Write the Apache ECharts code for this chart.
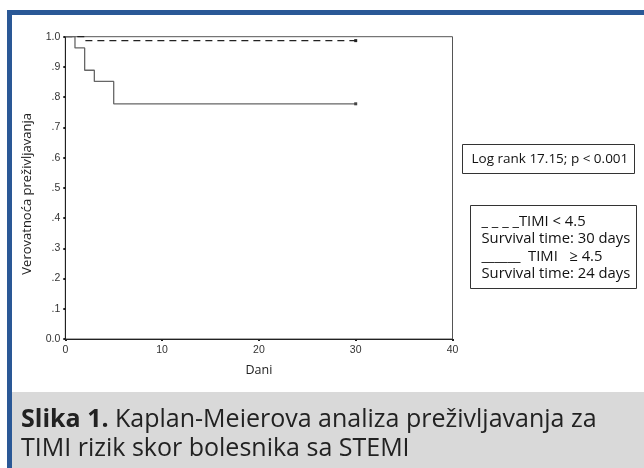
<!DOCTYPE html>
<html>
<head>
<meta charset="utf-8">
<title>Kaplan-Meier TIMI</title>
<script src="https://cdn.jsdelivr.net/npm/echarts@6/dist/echarts.min.js"></script>
<style>
    html, body { margin: 0; padding: 0; background: #fff; }
    #kmChart { width: 644px; height: 468px; }
</style>
</head>
<body>
<div id="kmChart"></div>
<script>
// Kaplan-Meier krive - TIMI rizik skor
var lowDays = [0, 2, 30];                        // TIMI < 4.5 (isprekidana)
var lowSurv = [1.0, 0.987, 0.987];
var highDays = [0, 1, 2, 3, 5, 30];              // TIMI >= 4.5 (puna)
var highSurv = [1.0, 0.963, 0.889, 0.852, 0.778, 0.778];
var yTickLabels = ['0.0', '.1', '.2', '.3', '.4', '.5', '.6', '.7', '.8', '.9', '1.0'];
var logRankText = 'Log rank 17.15; p < 0.001';
var legendLines = ['_ _ _ _TIMI < 4.5', 'Survival time: 30 days', '______  TIMI   \u2265 4.5', 'Survival time: 24 days'];
var captionBold = 'Slika 1.';
var captionRest = ' Kaplan-Meierova analiza preživljavanja za';
var captionLine2 = 'TIMI rizik skor bolesnika sa STEMI';

function toPairs(xs, ys) {
    var out = [];
    for (var i = 0; i < xs.length; i++) {
        out.push([xs[i], ys[i]]);
    }
    return out;
}

// samo poslednja tacka ima mali kvadrat (cenzurisano)
function endMark(value) {
    return value[0] === 30 ? 3 : 0;
}

function showKmChart() {
    var kmChart = echarts.init(document.getElementById('kmChart'));
    var textFont = '"Open Sans", Lato, sans-serif';
    var legendGraphics = [];
    var legendY = [224, 241, 259, 276];
    for (var i = 0; i < legendLines.length; i++) {
        legendGraphics.push({
            type: 'text',
            left: 481.5,
            top: legendY[i] - 10,
            style: {
                text: legendLines[i],
                fill: '#111',
                font: '14.8px ' + textFont
            }
        });
    }
    option = {
        backgroundColor: '#fff',
        animation: false,
        grid: {
            left: 65.3,
            right: 191.5,
            top: 36.7,
            bottom: 129,
            show: true,
            borderColor: '#555',
            borderWidth: 1
        },
        xAxis: {
            type: 'value',
            min: 0,
            max: 40,
            interval: 10,
            name: 'Dani',
            nameLocation: 'middle',
            nameGap: 25,
            nameTextStyle: {
                color: '#222',
                fontFamily: textFont,
                fontSize: 12.5
            },
            splitLine: { show: false },
            axisLine: { lineStyle: { color: '#222', width: 1 } },
            axisTick: { length: 2, lineStyle: { color: '#222', width: 2 } },
            axisLabel: {
                color: '#333',
                fontFamily: 'Liberation Sans, Arial, sans-serif',
                fontSize: 10.5,
                margin: 6
            }
        },
        yAxis: {
            type: 'value',
            min: 0,
            max: 1,
            interval: 0.1,
            name: 'Verovatnoća preživljavanja',
            nameLocation: 'middle',
            nameGap: 32,
            nameRotate: 90,
            nameTextStyle: {
                color: '#222',
                fontFamily: textFont,
                fontSize: 13,
                padding: [0, 12, 0, 0]
            },
            splitLine: { show: false },
            axisLine: { lineStyle: { color: '#222', width: 1 } },
            axisTick: { length: 2, lineStyle: { color: '#222', width: 2 } },
            axisLabel: {
                color: '#333',
                fontFamily: 'Liberation Sans, Arial, sans-serif',
                fontSize: 10.5,
                margin: 5,
                formatter: function (v) {
                    return yTickLabels[Math.round(v * 10)];
                }
            }
        },
        series: [
            {
                name: 'TIMI < 4.5',
                type: 'line',
                step: 'end',
                symbol: 'rect',
                symbolSize: endMark,
                itemStyle: { color: '#222' },
                lineStyle: { color: '#222', width: 1.2, type: [7, 5] },
                data: toPairs(lowDays, lowSurv)
            },
            {
                name: 'TIMI >= 4.5',
                type: 'line',
                step: 'end',
                symbol: 'rect',
                symbolSize: endMark,
                itemStyle: { color: '#444' },
                lineStyle: { color: '#666', width: 1.3 },
                data: toPairs(highDays, highSurv)
            }
        ],
        graphic: [
            // plavi okvir gore i levo
            { type: 'rect', shape: { x: 7, y: 10, width: 637, height: 5 }, style: { fill: '#2a5896' } },
            { type: 'rect', shape: { x: 7, y: 10, width: 5, height: 458 }, style: { fill: '#2a5896' } },
            // siva traka za naslov slike
            { type: 'rect', shape: { x: 12, y: 392, width: 632, height: 76 }, style: { fill: '#d9d9d9' } },
            {
                type: 'text',
                left: 21,
                top: 407,
                style: {
                    text: '{b|' + captionBold + '}{n|' + captionRest + '}\n{n|' + captionLine2 + '}',
                    rich: {
                        b: { font: 'bold 25px ' + textFont, fill: '#222', lineHeight: 29 },
                        n: { font: '25px ' + textFont, fill: '#222', lineHeight: 29 }
                    }
                }
            },
            // log rank okvir
            { type: 'rect', shape: { x: 462.5, y: 144.5, width: 172, height: 29 }, style: { fill: '#fff', stroke: '#333', lineWidth: 1 } },
            {
                type: 'text',
                left: 471.5,
                top: 152,
                style: { text: logRankText, fill: '#111', font: '13.5px ' + textFont }
            },
            // legenda
            { type: 'rect', shape: { x: 470.5, y: 205.5, width: 166, height: 83 }, style: { fill: '#fff', stroke: '#333', lineWidth: 1 } }
        ].concat(legendGraphics)
    };
    kmChart.setOption(option);
}

showKmChart();
</script>
</body>
</html>
